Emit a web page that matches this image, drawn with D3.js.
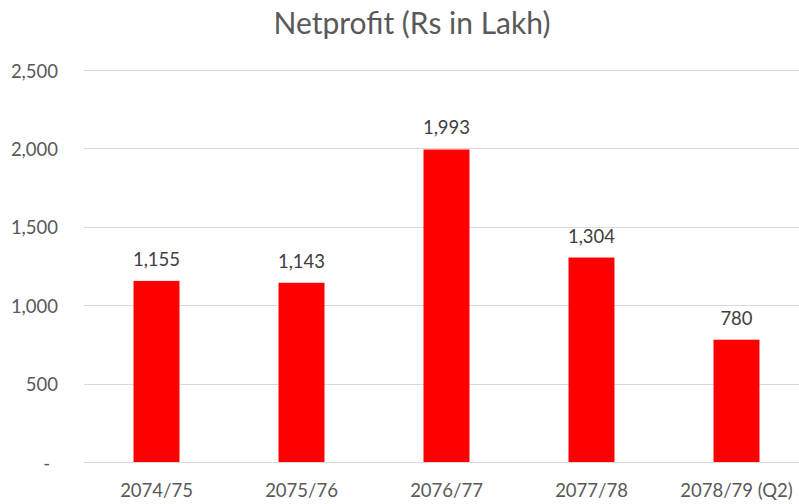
<!DOCTYPE html>
<html>
<head>
<meta charset="utf-8">
<script src="https://cdn.jsdelivr.net/npm/d3@7"></script>
<style>
  body { margin: 0; background: #fff; }
  text { font-family: Lato, "Open Sans", sans-serif; }
</style>
</head>
<body>
<div id="chart"></div>
<script>
// data
var years = ['2074/75', '2075/76', '2076/77', '2077/78', '2078/79 (Q2)'];
var netProfit = [1155, 1143, 1993, 1304, 780];
var yTicks = [0, 500, 1000, 1500, 2000, 2500];

var width = 799, height = 504;
var svg = d3.select('#chart').append('svg')
    .attr('width', width).attr('height', height);

// plot area (runs a bit past the right edge like the original)
var x = d3.scaleBand().domain(years).range([84, 809])
    .paddingInner(0.683).paddingOuter(0.3415);
var y = d3.scaleLinear().domain([0, 2500]).range([462, 70]);

var fmt = d3.format(',');

// gridlines
svg.append('g').selectAll('line')
    .data(yTicks)
    .enter().append('line')
    .attr('x1', 84).attr('x2', width)
    .attr('y1', d => Math.round(y(d)) + 0.5)
    .attr('y2', d => Math.round(y(d)) + 0.5)
    .attr('stroke', '#d9d9d9').attr('stroke-width', 1.2);

// y labels (accounting style: zero shown as a dash, set in a little)
svg.append('g').selectAll('text')
    .data(yTicks)
    .enter().append('text')
    .attr('x', d => d === 0 ? 50 : 58)
    .attr('y', d => y(d) + 7.5)
    .attr('text-anchor', 'end')
    .attr('font-size', 18.5).attr('fill', '#595959')
    .text(d => d === 0 ? '-' : fmt(d));

// bars
svg.append('g').selectAll('rect')
    .data(netProfit)
    .enter().append('rect')
    .attr('x', (d, i) => x(years[i]))
    .attr('width', x.bandwidth())
    .attr('y', d => y(d))
    .attr('height', d => y(0) - y(d))
    .attr('fill', '#ff0000');

// value labels
svg.append('g').selectAll('text')
    .data(netProfit)
    .enter().append('text')
    .attr('x', (d, i) => x(years[i]) + x.bandwidth() / 2)
    .attr('y', d => y(d) - 15)
    .attr('text-anchor', 'middle')
    .attr('font-size', 18.5).attr('fill', '#404040')
    .text(d => fmt(d));

// x labels
svg.append('g').selectAll('text')
    .data(years)
    .enter().append('text')
    .attr('x', d => x(d) + x.bandwidth() / 2)
    .attr('y', 497)
    .attr('text-anchor', 'middle')
    .attr('font-size', 18.5).attr('fill', '#595959')
    .text(d => d);

// title
svg.append('text')
    .attr('x', 412).attr('y', 34)
    .attr('text-anchor', 'middle')
    .attr('font-size', 30).attr('fill', '#595959')
    .text('Netprofit (Rs in Lakh)');
</script>
</body>
</html>
